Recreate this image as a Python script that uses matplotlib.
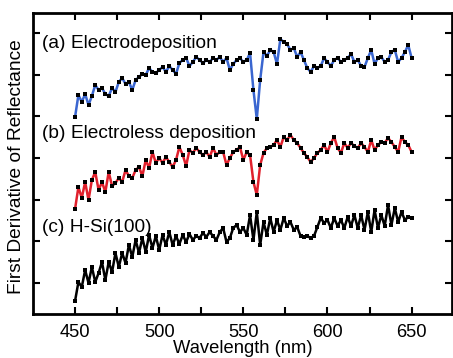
import numpy as np
import matplotlib
matplotlib.use('Agg')
import matplotlib.pyplot as plt

plt.rcParams['font.family'] = ['Liberation Sans', 'DejaVu Sans']

# wavelength grid (nm), one reading every 2 nm
wavelength = np.arange(450, 651, 2)

# first derivative of reflectance, arbitrary units, curves are offset vertically
electrodeposition = [
    203, 225, 218, 226, 215, 224, 235, 230, 232, 226, 224, 232, 228, 238, 242, 236,
    238, 230, 240, 243, 246, 245, 252, 248, 247, 250, 253, 248, 254, 250, 246, 257,
    260, 262, 254, 258, 263, 260, 257, 260, 258, 262, 260, 263, 258, 262, 250, 256,
    260, 262, 258, 260, 267, 230, 201, 240, 268, 264, 270, 268, 256, 281, 278, 276,
    270, 272, 263, 268, 260, 252, 248, 254, 252, 254, 262, 258, 254, 260, 262, 258,
    260, 262, 266, 258, 260, 254, 253, 262, 270, 256, 262, 263, 258, 260, 268, 270,
    258, 262, 268, 275, 262]
electroless = [
    111, 133, 122, 138, 120, 140, 148, 130, 138, 128, 148, 134, 137, 142, 138, 150,
    144, 142, 150, 153, 144, 160, 152, 168, 157, 162, 157, 163, 158, 153, 160, 173,
    165, 154, 170, 167, 172, 168, 165, 168, 163, 172, 165, 168, 168, 155, 162, 168,
    170, 173, 160, 168, 165, 138, 125, 155, 167, 172, 173, 175, 180, 173, 183, 180,
    185, 180, 177, 172, 167, 163, 158, 162, 167, 170, 175, 168, 177, 183, 172, 167,
    177, 172, 177, 174, 172, 177, 173, 168, 180, 170, 175, 178, 177, 182, 178, 173,
    168, 183, 178, 175, 168]
h_si = [
    19, 38, 33, 50, 37, 53, 38, 47, 58, 40, 58, 48, 67, 53, 67, 57,
    75, 63, 80, 67, 82, 68, 85, 72, 84, 70, 85, 75, 88, 75, 84, 76,
    85, 78, 86, 80, 84, 82, 87, 83, 88, 84, 80, 88, 92, 78, 82, 92,
    95, 88, 92, 85, 105, 80, 108, 75, 98, 85, 102, 88, 100, 90, 102, 94,
    98, 90, 93, 84, 83, 84, 82, 84, 93, 102, 97, 100, 92, 102, 94, 100,
    92, 103, 94, 105, 92, 105, 90, 108, 88, 110, 92, 105, 94, 115, 95, 112,
    98, 108, 100, 103, 102]

series = [
    ('(a) Electrodeposition', electrodeposition, '#3a66d0', 0.900),
    ('(b) Electroless deposition', electroless, '#e0202c', 0.601),
    ('(c) H-Si(100)', h_si, 'black', 0.286),
]

fig = plt.figure(figsize=(4.53, 3.58), dpi=100)
ax = fig.add_axes([0.0728, 0.1229, 0.925, 0.8408])

for label, vals, color, ty in series:
    ax.plot(wavelength, vals, '-', color=color, lw=1.8, zorder=2)
    ax.plot(wavelength, vals, 's', color='black', ms=3.0, mew=0, zorder=3)
    ax.text(0.0215, ty, label, transform=ax.transAxes, fontsize=13.8,
            ha='left', va='center')

ax.set_xlim(425, 674)
ax.set_ylim(6, 307)
ax.set_xticks([450, 500, 550, 600, 650])
ax.set_xticks([475, 525, 575, 625], minor=True)
ax.set_yticks(37 + 41.67 * np.arange(7))
ax.set_yticklabels([])
ax.tick_params(which='both', direction='in', top=True, right=True,
               length=5, width=1.5, labelsize=13.2, pad=7)

for sp in ax.spines.values():
    sp.set_linewidth(2.0)

ax.set_xlabel('Wavelength (nm)', fontsize=13.2)
ax.set_ylabel('First Derivative of Reflectance', fontsize=13.8)
ax.xaxis.set_label_coords(0.5, -0.087)
ax.yaxis.set_label_coords(-0.02, 0.49)

fig.savefig('out.png', dpi=100)
